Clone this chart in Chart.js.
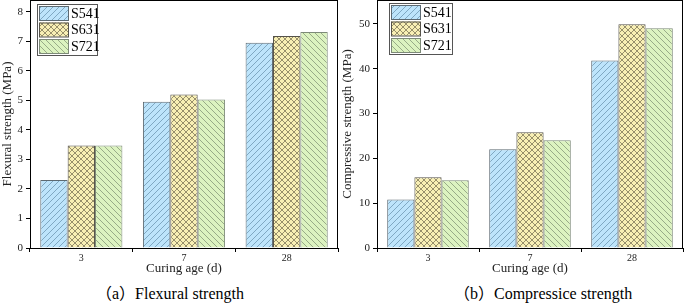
<!DOCTYPE html>
<html>
<head>
<meta charset="utf-8">
<script src="https://cdn.jsdelivr.net/npm/chart.js@4"></script>
<style>
  body { margin: 0; background: #fff; width: 685px; height: 308px; position: relative; overflow: hidden; }
  .panel { position: absolute; top: 0; height: 278px; }
  .cap { position: absolute; top: 280px; font-family: "Liberation Serif", "Noto Sans CJK SC", serif; font-size: 16px; color: #000; white-space: nowrap; }
</style>
</head>
<body>
<div class="panel" style="left:0;width:340px"><canvas id="flex"></canvas></div>
<div class="panel" style="left:340px;width:345px"><canvas id="comp"></canvas></div>
<div class="cap" style="left:96px">（a）Flexural strength</div>
<div class="cap" style="left:454px">（b）Compressice strength</div>
<script>
const ages = ['3', '7', '28'];
const mixes = ['S541', 'S631', 'S721'];

const flexS541 = [2.30, 4.95, 6.95];
const flexS631 = [3.47, 5.20, 7.18];
const flexS721 = [3.47, 5.03, 7.32];

const compS541 = [10.8, 22.0, 41.8];
const compS631 = [15.8, 25.8, 49.9];
const compS721 = [15.1, 24.0, 49.0];

const flexTicks = [0, 1, 2, 3, 4, 5, 6, 7, 8];
const compTicks = [0, 10, 20, 30, 40, 50];

// hatch fills
function hatch(bg, line, kind) {
    const c = document.createElement('canvas');
    c.width = 6; c.height = 6;
    const g = c.getContext('2d');
    g.fillStyle = bg;
    g.fillRect(0, 0, 6, 6);
    g.strokeStyle = line;
    g.lineWidth = 0.8;
    g.beginPath();
    if (kind === 'up' || kind === 'cross') {
        g.moveTo(-1, 7); g.lineTo(7, -1);
        g.moveTo(-1, 1); g.lineTo(1, -1);
        g.moveTo(5, 7); g.lineTo(7, 5);
    }
    if (kind === 'down' || kind === 'cross') {
        g.moveTo(-1, -1); g.lineTo(7, 7);
        g.moveTo(5, -1); g.lineTo(7, 1);
        g.moveTo(-1, 5); g.lineTo(1, 7);
    }
    g.stroke();
    return g.createPattern(c, 'repeat');
}

const fills = [
    hatch('#bde4fb', '#6f98b4', 'up'),
    hatch('#f8efb4', '#7d7658', 'cross'),
    hatch('#dcf3c0', '#86987a', 'down')
];
const borders = ['#5d6a72', '#55524a', '#7d8a78'];

const serif = '"Liberation Serif", "Times New Roman", serif';

// box frame round the plot area
const frame = {
    id: 'frame',
    afterDraw(chart) {
        const a = chart.chartArea, ctx = chart.ctx;
        ctx.save();
        ctx.strokeStyle = '#000';
        ctx.lineWidth = 1;
        ctx.strokeRect(a.left + 0.5, a.top + 0.5, a.right - a.left - 1, a.bottom - a.top);
        ctx.restore();
    }
};

// legend box drawn inside the plot
const innerLegend = {
    id: 'innerLegend',
    afterDraw(chart, args, opts) {
        const ctx = chart.ctx, a = chart.chartArea;
        const x = a.left + opts.dx, y = a.top + opts.dy;
        ctx.save();
        ctx.fillStyle = '#fff';
        ctx.strokeStyle = '#555';
        ctx.lineWidth = 1;
        ctx.fillRect(x, y, opts.w, 51);
        ctx.strokeRect(x + 0.5, y + 0.5, opts.w, 51);
        ctx.font = '14px ' + serif;
        ctx.textBaseline = 'middle';
        chart.data.datasets.forEach((ds, i) => {
            const ry = y + 2 + i * 16.5;
            ctx.fillStyle = ds.backgroundColor;
            ctx.fillRect(x + 2, ry, 29, 14);
            ctx.strokeStyle = ds.borderColor;
            ctx.strokeRect(x + 2.5, ry + 0.5, 29, 14);
            ctx.fillStyle = '#000';
            ctx.fillText(ds.label, x + 34, ry + 8);
        });
        ctx.restore();
    }
};

function makeChart(id, series, ticks, yMax, yTitle, yWidth, legendPos) {
    return new Chart(document.getElementById(id), {
        type: 'bar',
        data: {
            labels: ages,
            datasets: series.map((vals, i) => ({
                label: mixes[i],
                data: vals,
                backgroundColor: fills[i],
                borderColor: borders[i],
                borderWidth: 1,
                categoryPercentage: 0.8,
                barPercentage: 1.0
            }))
        },
        options: {
            responsive: true,
            maintainAspectRatio: false,
            animation: false,
            layout: { padding: { top: 0, right: 2, left: 0, bottom: 0 } },
            plugins: {
                legend: { display: false },
                tooltip: { enabled: false },
                innerLegend: legendPos
            },
            scales: {
                x: {
                    afterFit: s => { s.height = 30; s.paddingLeft = 0; s.paddingRight = 0; },
                    grid: { display: true, offset: true, drawOnChartArea: false, tickLength: 4, color: '#000' },
                    border: { color: '#000', width: 1 },
                    ticks: { color: '#222', font: { family: serif, size: 10 }, padding: 0 },
                    title: { display: true, text: 'Curing age (d)', color: '#222', font: { family: serif, size: 13 }, padding: { top: 0, bottom: 2 } }
                },
                y: {
                    min: 0,
                    max: yMax,
                    afterBuildTicks: s => { s.ticks = ticks.map(v => ({ value: v })); },
                    afterFit: s => { s.width = yWidth; s.paddingTop = 0; s.paddingBottom = 0; },
                    grid: { display: true, drawOnChartArea: false, tickLength: 4, color: '#000' },
                    border: { color: '#000', width: 1 },
                    ticks: { color: '#222', font: { family: serif, size: 11 }, padding: 3 },
                    title: { display: true, text: yTitle, color: '#222', font: { family: serif, size: 13 }, padding: 0 }
                }
            }
        },
        plugins: [frame, innerLegend]
    });
}

makeChart('flex', [flexS541, flexS631, flexS721], flexTicks, 8.4,
    'Flexural strength (MPa)', 30, { dx: 7, dy: 4, w: 60 });
makeChart('comp', [compS541, compS631, compS721], compTicks, 55.3,
    'Compressive strength (MPa)', 37, { dx: 12, dy: 3, w: 63 });
</script>
</body>
</html>
